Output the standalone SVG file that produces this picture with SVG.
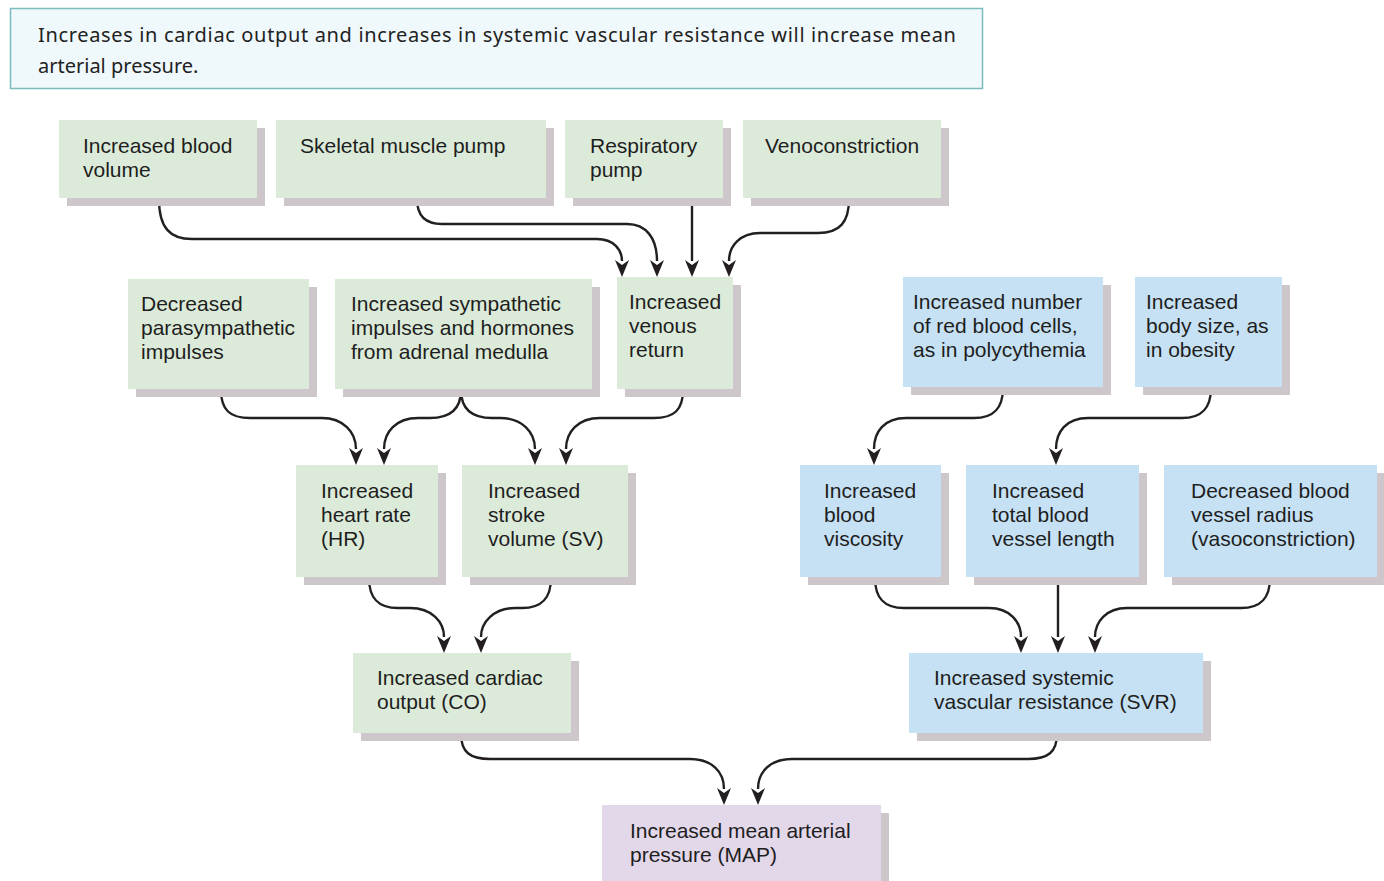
<svg xmlns="http://www.w3.org/2000/svg" width="1384" height="881" viewBox="0 0 1384 881">
<style>
.sh{fill:#cdc6cb}
.g{fill:#dcebd9}
.b{fill:#c6e1f3}
.p{fill:#e3d7ea}
.t{font-family:"Liberation Sans",Arial,sans-serif;font-size:21px;fill:#1e1e1e}
.c{fill:none;stroke:#231f20;stroke-width:2.4;marker-end:url(#ah)}
.hd{font-family:"Noto Sans","Open Sans",sans-serif;font-size:20px;fill:#222}
</style>
<defs>
<marker id="ah" markerUnits="userSpaceOnUse" viewBox="0 0 17 14" refX="1" refY="7" markerWidth="17" markerHeight="14" orient="auto">
<path d="M0,0 L17,7 L0,14 L5,7 Z" fill="#231f20"/>
</marker>
</defs>
<rect width="1384" height="881" fill="#ffffff"/>
<g id="header">
<rect x="10.5" y="8.5" width="972" height="80" fill="#eff8fa" stroke="#7cbcbe" stroke-width="1.5"/>
<text class="hd" x="38" y="42" textLength="918" lengthAdjust="spacing">Increases in cardiac output and increases in systemic vascular resistance will increase mean</text>
<text class="hd" x="38" y="73">arterial pressure.</text>
</g>
<g id="connectors">
<path class="c" d="M159,199 C159,228 170,239 192,239 L597,239 C614,239 622,250 622,261"/>
<path class="c" d="M417,199 C417,216 425,224 442,224 L627,224 C646,224 657,238 657,261"/>
<path class="c" d="M692,199 L692,261"/>
<path class="c" d="M849,199 C849,222 840,233 818,233 L760,233 C740,233 729,246 729,261"/>
<path class="c" d="M221,390 C221,410 230,418 250,418 L322,418 C343,418 356,432 356,449"/>
<path class="c" d="M461,390 C461,408 452,418 430,418 L418,418 C396,418 384,432 384,449"/>
<path class="c" d="M461,390 C461,408 470,418 492,418 L500,418 C522,418 535,432 535,449"/>
<path class="c" d="M683,390 C683,410 674,418 654,418 L600,418 C578,418 566,432 566,449"/>
<path class="c" d="M369,578 C369,598 378,608 398,608 L410,608 C432,608 444,622 444,637"/>
<path class="c" d="M551,578 C551,598 542,608 522,608 L515,608 C494,608 481,622 481,637"/>
<path class="c" d="M1003,388 C1003,408 994,418 974,418 L906,418 C884,418 874,432 874,449"/>
<path class="c" d="M1211,388 C1211,408 1202,418 1182,418 L1088,418 C1066,418 1056,432 1056,449"/>
<path class="c" d="M875,578 C875,598 884,608 904,608 L989,608 C1010,608 1021,622 1021,637"/>
<path class="c" d="M1058,578 L1058,637"/>
<path class="c" d="M1270,578 C1270,598 1261,608 1241,608 L1127,608 C1106,608 1095,622 1095,637"/>
<path class="c" d="M461,734 C461,752 470,759 490,759 L690,759 C712,759 724,772 724,789"/>
<path class="c" d="M1057,734 C1057,752 1048,759 1028,759 L792,759 C770,759 758,772 758,789"/>
</g>
<g id="n1"><rect class="sh" x="67" y="128" width="198" height="78"/><rect class="g" x="59" y="120" width="198" height="78"/>
<text class="t" x="83" y="153">Increased blood</text><text class="t" x="83" y="177">volume</text></g>
<g id="n2"><rect class="sh" x="284" y="128" width="270" height="78"/><rect class="g" x="276" y="120" width="270" height="78"/>
<text class="t" x="300" y="153">Skeletal muscle pump</text></g>
<g id="n3"><rect class="sh" x="573" y="128" width="158" height="78"/><rect class="g" x="565" y="120" width="158" height="78"/>
<text class="t" x="590" y="153">Respiratory</text><text class="t" x="590" y="177">pump</text></g>
<g id="n4"><rect class="sh" x="751" y="128" width="198" height="78"/><rect class="g" x="743" y="120" width="198" height="78"/>
<text class="t" x="765" y="153">Venoconstriction</text></g>
<g id="n5"><rect class="sh" x="136" y="287" width="181" height="110"/><rect class="g" x="128" y="279" width="181" height="110"/>
<text class="t" x="141" y="311">Decreased</text><text class="t" x="141" y="335">parasympathetic</text><text class="t" x="141" y="359">impulses</text></g>
<g id="n6"><rect class="sh" x="343" y="287" width="257" height="110"/><rect class="g" x="335" y="279" width="257" height="110"/>
<text class="t" x="351" y="311">Increased sympathetic</text><text class="t" x="351" y="335">impulses and hormones</text><text class="t" x="351" y="359">from adrenal medulla</text></g>
<g id="n7"><rect class="sh" x="625" y="285" width="116" height="112"/><rect class="g" x="617" y="277" width="116" height="112"/>
<text class="t" x="629" y="309">Increased</text><text class="t" x="629" y="333">venous</text><text class="t" x="629" y="357">return</text></g>
<g id="n8"><rect class="sh" x="304" y="473" width="142" height="112"/><rect class="g" x="296" y="465" width="142" height="112"/>
<text class="t" x="321" y="498">Increased</text><text class="t" x="321" y="522">heart rate</text><text class="t" x="321" y="546">(HR)</text></g>
<g id="n9"><rect class="sh" x="470" y="473" width="166" height="112"/><rect class="g" x="462" y="465" width="166" height="112"/>
<text class="t" x="488" y="498">Increased</text><text class="t" x="488" y="522">stroke</text><text class="t" x="488" y="546">volume (SV)</text></g>
<g id="n10"><rect class="sh" x="911" y="285" width="200" height="110"/><rect class="b" x="903" y="277" width="200" height="110"/>
<text class="t" x="913" y="309">Increased number</text><text class="t" x="913" y="333">of red blood cells,</text><text class="t" x="913" y="357">as in polycythemia</text></g>
<g id="n11"><rect class="sh" x="1143" y="285" width="147" height="110"/><rect class="b" x="1135" y="277" width="147" height="110"/>
<text class="t" x="1146" y="309">Increased</text><text class="t" x="1146" y="333">body size, as</text><text class="t" x="1146" y="357">in obesity</text></g>
<g id="n12"><rect class="sh" x="808" y="473" width="141" height="112"/><rect class="b" x="800" y="465" width="141" height="112"/>
<text class="t" x="824" y="498">Increased</text><text class="t" x="824" y="522">blood</text><text class="t" x="824" y="546">viscosity</text></g>
<g id="n13"><rect class="sh" x="974" y="473" width="173" height="112"/><rect class="b" x="966" y="465" width="173" height="112"/>
<text class="t" x="992" y="498">Increased</text><text class="t" x="992" y="522">total blood</text><text class="t" x="992" y="546">vessel length</text></g>
<g id="n14"><rect class="sh" x="1172" y="473" width="213" height="112"/><rect class="b" x="1164" y="465" width="213" height="112"/>
<text class="t" x="1191" y="498">Decreased blood</text><text class="t" x="1191" y="522">vessel radius</text><text class="t" x="1191" y="546">(vasoconstriction)</text></g>
<g id="n15"><rect class="sh" x="361" y="661" width="218" height="80"/><rect class="g" x="353" y="653" width="218" height="80"/>
<text class="t" x="377" y="685">Increased cardiac</text><text class="t" x="377" y="709">output (CO)</text></g>
<g id="n16"><rect class="sh" x="917" y="661" width="294" height="80"/><rect class="b" x="909" y="653" width="294" height="80"/>
<text class="t" x="934" y="685">Increased systemic</text><text class="t" x="934" y="709">vascular resistance (SVR)</text></g>
<g id="n17"><rect class="sh" x="610" y="813" width="279" height="80"/><rect class="p" x="602" y="805" width="279" height="80"/>
<text class="t" x="630" y="838">Increased mean arterial</text><text class="t" x="630" y="862">pressure (MAP)</text></g>
</svg>
